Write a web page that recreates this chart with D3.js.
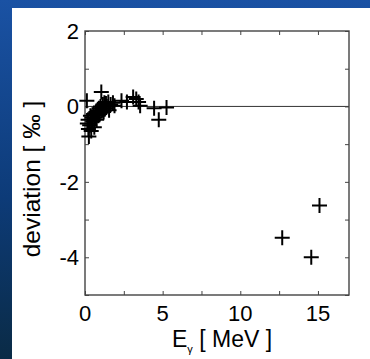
<!DOCTYPE html>
<html>
<head>
<meta charset="utf-8">
<script src="https://cdn.jsdelivr.net/npm/d3@7"></script>
<style>
  html, body { margin: 0; padding: 0; background: #0c3a7a; }
  svg { display: block; }
</style>
</head>
<body>
<svg width="370" height="359"></svg>
<script>
  // gamma energy in MeV
  const energies = [0.12, 0.15, 0.2, 0.22, 0.25, 0.3, 0.35, 0.4, 0.45, 0.5,
    0.55, 0.6, 0.65, 0.7, 0.75, 0.8, 0.85, 0.9, 0.95, 1.0,
    1.05, 1.1, 1.15, 1.2, 1.25, 1.3, 1.35, 1.4, 1.5, 1.55,
    1.65, 1.8, 1.9, 2.35, 2.7, 3.1, 3.3, 3.45, 3.55, 4.45,
    4.75, 5.25, 12.7, 14.57, 15.1];
  // deviation in permille
  const deviations = [0.15, -0.45, -0.35, -0.6, -0.8, -0.5, -0.25, -0.65, -0.3, -0.4,
    -0.2, -0.55, -0.3, -0.15, -0.35, -0.1, -0.25, -0.05, -0.2, 0.0,
    0.38, -0.1, 0.05, -0.15, 0.1, -0.05, 0.08, 0.0, 0.12, -0.1,
    0.05, 0.1, 0.02, 0.15, 0.12, 0.25, 0.2, 0.12, 0.02, -0.05,
    -0.35, -0.03, -3.48, -4.0, -2.63];
  const xTicks = [0, 5, 10, 15];
  const yTicks = [2, 0, -2, -4];

  const svg = d3.select("svg");
  const width = +svg.attr("width");
  const height = +svg.attr("height");

  // blue slide background
  const defs = svg.append("defs");
  const grad = defs.append("linearGradient")
    .attr("id", "bg")
    .attr("x1", 0).attr("y1", 0).attr("x2", 0).attr("y2", 1);
  grad.append("stop").attr("offset", "0%").attr("stop-color", "#1a52a4");
  grad.append("stop").attr("offset", "55%").attr("stop-color", "#0d3b78");
  grad.append("stop").attr("offset", "100%").attr("stop-color", "#0a2b46");
  svg.append("rect").attr("width", width).attr("height", height).attr("fill", "url(#bg)");

  // white panel
  svg.append("rect")
    .attr("x", 12).attr("y", 8)
    .attr("width", width - 12).attr("height", height - 8)
    .attr("fill", "#fff");

  const plotL = 85, plotR = 349, plotT = 31, plotB = 295;
  const x = d3.scaleLinear().domain([0, 17]).range([plotL, plotR]);
  const y = d3.scaleLinear().domain([-5, 2]).range([plotB, plotT]);

  const font = "'Liberation Sans', Arial, Helvetica, sans-serif";
  const lineColor = "#444";

  const g = svg.append("g");

  // zero line
  g.append("line")
    .attr("x1", x(0)).attr("x2", x(17))
    .attr("y1", y(0)).attr("y2", y(0))
    .attr("stroke", "#333").attr("stroke-width", 1);

  // axes with inward ticks
  const xMinor = d3.range(0, 17.01, 2.5);
  const yMinor = d3.range(-5, 2.01, 1);
  g.append("g").attr("transform", `translate(0,${plotB})`)
    .call(d3.axisTop(x).tickValues(xMinor).tickSize(4).tickFormat(""));
  g.append("g").attr("transform", `translate(0,${plotT})`)
    .call(d3.axisBottom(x).tickValues(xMinor).tickSize(4).tickFormat(""));
  g.append("g").attr("transform", `translate(${plotL},0)`)
    .call(d3.axisRight(y).tickValues(yMinor).tickSize(4).tickFormat(""));
  g.append("g").attr("transform", `translate(${plotR},0)`)
    .call(d3.axisLeft(y).tickValues(yMinor).tickSize(4).tickFormat(""));
  g.selectAll(".domain").remove();
  g.selectAll(".tick line").attr("stroke", lineColor).attr("stroke-width", 1);

  // frame
  g.append("rect")
    .attr("x", plotL).attr("y", plotT)
    .attr("width", plotR - plotL).attr("height", plotB - plotT)
    .attr("fill", "none").attr("stroke", lineColor).attr("stroke-width", 1.4);

  // tick labels
  svg.append("g").selectAll("text").data(xTicks).join("text")
    .attr("x", d => x(d)).attr("y", plotB + 26)
    .attr("text-anchor", "middle")
    .attr("font-family", font).attr("font-size", 22)
    .text(d => d);
  svg.append("g").selectAll("text").data(yTicks).join("text")
    .attr("x", plotL - 6).attr("y", d => y(d))
    .attr("dy", "0.36em")
    .attr("text-anchor", "end")
    .attr("font-family", font).attr("font-size", 22)
    .text(d => d);

  // axis titles
  const xl = svg.append("text")
    .attr("x", 222).attr("y", 347)
    .attr("text-anchor", "middle")
    .attr("font-family", font).attr("font-size", 23);
  xl.append("tspan").text("E");
  xl.append("tspan").attr("font-size", 11).attr("dy", 6).text("γ");
  xl.append("tspan").attr("dy", -6).text(" [ MeV ]");

  svg.append("text")
    .attr("transform", `translate(40,179) rotate(-90)`)
    .attr("text-anchor", "middle")
    .attr("font-family", font).attr("font-size", 24.5)
    .text("deviation [ ‰ ]");

  // data crosses
  const pts = energies.map((e, i) => ({ e, d: deviations[i] }));
  const arm = 7.5;
  svg.append("g").selectAll("path").data(pts).join("path")
    .attr("d", p => {
      const cx = x(p.e), cy = y(p.d);
      return `M${cx - arm},${cy}H${cx + arm}M${cx},${cy - arm}V${cy + arm}`;
    })
    .attr("stroke", "#000").attr("stroke-width", 2).attr("fill", "none");
</script>
</body>
</html>
